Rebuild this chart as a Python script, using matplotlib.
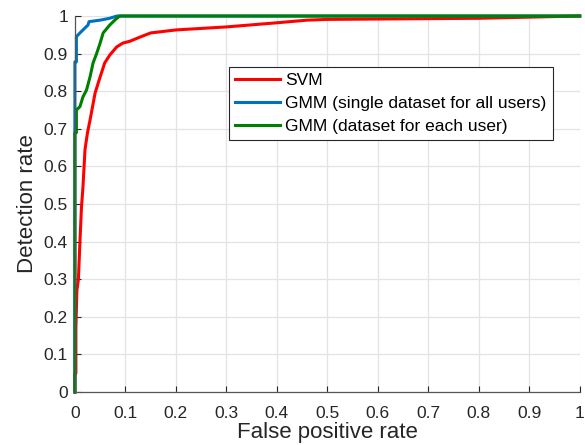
import numpy as np
import matplotlib.pyplot as plt

plt.rcParams['font.family'] = ['Liberation Sans', 'DejaVu Sans']

# ROC points
svm_fpr = [0, 0, 0.002, 0.002, 0.004, 0.007, 0.01, 0.013, 0.016, 0.02, 0.025, 0.03, 0.04,
           0.05, 0.059, 0.069, 0.083, 0.095, 0.109, 0.129, 0.15, 0.2, 0.3, 0.4, 0.46, 0.5,
           0.7, 0.8, 0.9, 1.0]
svm_tpr = [0, 0.05, 0.05, 0.17, 0.27, 0.30, 0.40, 0.49, 0.545, 0.644, 0.69, 0.723, 0.795,
           0.838, 0.875, 0.896, 0.918, 0.928, 0.933, 0.944, 0.955, 0.963, 0.971, 0.982, 0.989, 0.991,
           0.993, 0.994, 0.997, 1.0]

gmm_all_fpr = [0, 0, 0.003, 0.003, 0.01, 0.016, 0.026, 0.028, 0.05, 0.069, 0.083, 1.0]
gmm_all_tpr = [0, 0.878, 0.878, 0.945, 0.955, 0.963, 0.976, 0.985, 0.989, 0.994, 1.0, 1.0]

gmm_each_fpr = [0, 0, 0.003, 0.003, 0.01, 0.016, 0.023, 0.03, 0.036, 0.043, 0.05, 0.056,
                0.069, 0.083, 0.089, 1.0]
gmm_each_tpr = [0, 0.69, 0.69, 0.75, 0.759, 0.785, 0.803, 0.838, 0.875, 0.9, 0.928, 0.955,
                0.976, 0.994, 1.0, 1.0]

ticks = np.arange(0, 11) / 10
tick_labels = ['0', '0.1', '0.2', '0.3', '0.4', '0.5', '0.6', '0.7', '0.8', '0.9', '1']

fig = plt.figure(figsize=(5.85, 4.45), dpi=100)
ax = fig.add_axes([0.128, 0.119, 0.863, 0.845])

ax.plot(svm_fpr, svm_tpr, color=(1, 0, 0), lw=2.2, label='SVM', clip_on=False)
ax.plot(gmm_all_fpr, gmm_all_tpr, color=(0, 0.447, 0.741), lw=2.2,
        label='GMM (single dataset for all users)', clip_on=False)
ax.plot(gmm_each_fpr, gmm_each_tpr, color=(0, 0.5, 0), lw=2.2,
        label='GMM (dataset for each user)', clip_on=False)

ax.set_xlim(0, 1)
ax.set_ylim(0, 1)
ax.set_xticks(ticks)
ax.set_xticklabels(tick_labels)
ax.set_yticks(ticks)
ax.set_yticklabels(tick_labels)
ax.tick_params(direction='in', length=4, width=0.8, labelsize=12.5, colors='#262626', pad=5)
ax.tick_params(axis='x', pad=10)
ax.grid(True, color='#e3e3e3', lw=0.9)
ax.set_axisbelow(True)
for s in ['top', 'right']:
    ax.spines[s].set_visible(False)
for s in ['left', 'bottom']:
    ax.spines[s].set_color('#555555')
    ax.spines[s].set_linewidth(0.9)

ax.set_xlabel('False positive rate', fontsize=16, color='#262626', labelpad=1)
ax.set_ylabel('Detection rate', fontsize=16, color='#262626', labelpad=4)

leg = ax.legend(loc='upper left', bbox_to_anchor=(0.305, 0.864), fontsize=12.5,
                handlelength=2.6, handletextpad=0.3, borderaxespad=0, borderpad=0.35,
                labelspacing=0.45, fancybox=False, framealpha=1)
leg.get_frame().set_edgecolor('#262626')
leg.get_frame().set_linewidth(0.8)

fig.savefig('out.png', dpi=100)
